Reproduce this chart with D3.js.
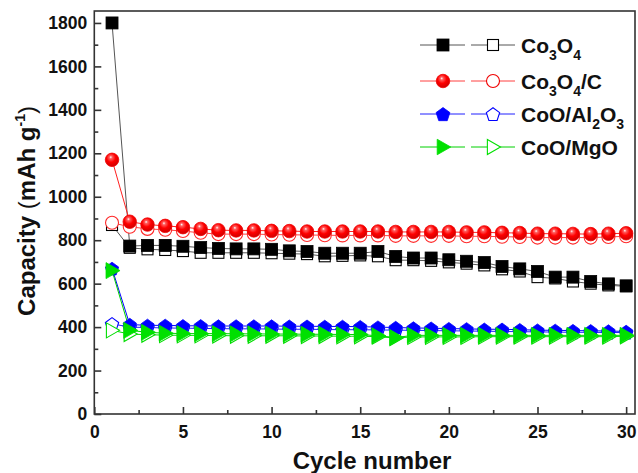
<!DOCTYPE html>
<html><head><meta charset="utf-8">
<script src="https://cdn.jsdelivr.net/npm/d3@7"></script>
<style>body{margin:0;background:#fff;} svg{display:block;font-family:"Liberation Sans",Arial,sans-serif;}</style>
</head><body>
<svg id="c" width="638" height="473"></svg>
<script>
const cycles = d3.range(1, 31);
const co3o4Fill = [1800,773,776,776,772,766,762,760,760,758,751,748,740,740,740,748,725,718,718,710,703,697,679,668,656,630,630,610,599,590];
const co3o4Open = [870,765,758,755,750,742,742,742,742,740,738,736,726,728,730,726,708,708,705,698,692,684,666,656,630,624,610,600,592,588];
const co3o4cFill = [1170,885,872,866,860,852,846,845,845,843,842,840,840,840,840,840,838,838,838,838,836,836,834,833,830,830,829,828,830,832];
const co3o4cOpen = [880,862,852,848,842,834,828,828,828,826,825,824,823,822,822,822,820,820,820,820,818,818,816,815,812,812,812,812,815,818];
const alFill = [670,412,408,408,406,406,405,405,405,405,404,404,403,403,402,400,398,396,395,393,392,390,390,388,386,385,384,383,382,380];
const alOpen = [415,400,398,396,395,394,393,392,392,391,390,390,389,388,388,387,386,385,384,383,382,381,380,379,378,377,376,376,375,375];
const mgFill = [660,385,376,372,370,370,370,369,369,368,368,367,367,366,366,360,352,362,362,362,362,362,362,362,362,362,362,362,362,362];
const mgOpen = [385,368,365,363,362,362,361,360,360,360,360,359,359,358,358,356,350,355,355,355,355,356,356,356,356,356,356,356,356,358];
const xTicks = [0,5,10,15,20,25,30];
const yTicks = [0,200,400,600,800,1000,1200,1400,1600,1800];

const svg = d3.select("#c");
const x = d3.scaleLinear().domain([0, 30.5]).range([94.3, 635]);
const y = d3.scaleLinear().domain([0, 1855]).range([414, 11]);

const defs = svg.append("defs");
const rg = defs.append("radialGradient").attr("id","sph").attr("cx","45%").attr("cy","38%").attr("r","60%").attr("fx","40%").attr("fy","30%");
rg.append("stop").attr("offset","0%").attr("stop-color","#ffffff");
rg.append("stop").attr("offset","18%").attr("stop-color","#ff6060");
rg.append("stop").attr("offset","55%").attr("stop-color","#ff0000");
rg.append("stop").attr("offset","100%").attr("stop-color","#d00000");
defs.append("clipPath").attr("id","clip").append("rect").attr("x",0).attr("y",0).attr("width",638).attr("height",473);

const axisCol = "#333";
svg.append("rect").attr("x", x(0)).attr("y", y(1855)).attr("width", x(30.5)-x(0)).attr("height", y(0)-y(1855))
  .attr("fill","none").attr("stroke",axisCol).attr("stroke-width",1.6);

const gx = svg.append("g").attr("transform",`translate(0,${y(0)})`);
gx.call(d3.axisBottom(x).tickValues(xTicks).tickSize(-7).tickPadding(12).tickFormat(d3.format("d")));
const gxm = svg.append("g").attr("transform",`translate(0,${y(0)})`);
gxm.call(d3.axisBottom(x).tickValues([2.5,7.5,12.5,17.5,22.5,27.5]).tickSize(-4).tickFormat(""));
const gy = svg.append("g").attr("transform",`translate(${x(0)},0)`);
gy.call(d3.axisLeft(y).tickValues(yTicks).tickSize(-7).tickPadding(7).tickFormat(d3.format("d")));
const gym = svg.append("g").attr("transform",`translate(${x(0)},0)`);
gym.call(d3.axisLeft(y).tickValues(d3.range(100,1900,200)).tickSize(-4).tickFormat(""));
[gx,gxm,gy,gym].forEach(g=>{
  g.select(".domain").remove();
  g.selectAll(".tick line").attr("stroke",axisCol).attr("stroke-width",1.6);
  g.selectAll("text").attr("font-size",17.5).attr("font-weight","bold").attr("fill","#111")
   .attr("font-family",'"Liberation Sans",Arial,sans-serif');
});

function drawShape(g, type, filled, color, size){
  let sel;
  if(type==="square"){
    const s = size;
    sel = g.append("rect").attr("x",-s/2).attr("y",-s/2).attr("width",s).attr("height",s);
  } else if(type==="circle"){
    sel = g.append("circle").attr("r", size/2);
  } else if(type==="pentagon"){
    const r = size/2+0.5;
    const pts = d3.range(5).map(i=>{const a=-Math.PI/2+i*2*Math.PI/5;return [r*Math.cos(a), r*Math.sin(a)+0.8];});
    sel = g.append("polygon").attr("points", pts.map(p=>p.join(",")).join(" "));
  } else {
    const s = size/2+1;
    sel = g.append("polygon").attr("points", `${-s*0.75},${-s} ${s},0 ${-s*0.75},${s}`);
  }
  if(filled){
    sel.attr("fill", type==="circle" ? "url(#sph)" : color).attr("stroke", color).attr("stroke-width",0.8);
  } else {
    sel.attr("fill","#fff").attr("stroke",color).attr("stroke-width",1.1);
  }
}

const series = [
  {vals: co3o4Open, type:"square", filled:false, color:"#000", line:"#555", size:11},
  {vals: co3o4Fill, type:"square", filled:true, color:"#000", line:"#555", size:12},
  {vals: co3o4cOpen, type:"circle", filled:false, color:"#ff2a2a", line:"#ff4040", size:13},
  {vals: co3o4cFill, type:"circle", filled:true, color:"#f00000", line:"#ff2020", size:13.5},
  {vals: alOpen, type:"pentagon", filled:false, color:"#0000ff", line:"#2020ff", size:13},
  {vals: alFill, type:"pentagon", filled:true, color:"#0000ff", line:"#0000ff", size:13},
  {vals: mgOpen, type:"triangle", filled:false, color:"#00dd00", line:"#00dd00", size:13},
  {vals: mgFill, type:"triangle", filled:true, color:"#00e000", line:"#00d000", size:14}
];
const plot = svg.append("g").attr("clip-path","url(#clip)");
const line = d3.line().x((d,i)=>x(cycles[i])).y(d=>y(d));
series.forEach(s=>{
  plot.append("path").attr("d", line(s.vals)).attr("fill","none").attr("stroke", s.line).attr("stroke-width",1);
});
series.forEach(s=>{
  s.vals.forEach((v,i)=>{
    const g = plot.append("g").attr("transform",`translate(${x(cycles[i])},${y(v)})`);
    drawShape(g, s.type, s.filled, s.color, s.size);
  });
});

const legendRows = [
  {parts:[["Co",0],["3",1],["O",0],["4",1]], type:"square", color:"#000", line:"#555"},
  {parts:[["Co",0],["3",1],["O",0],["4",1],["/C",0]], type:"circle", color:"#f00000", line:"#ff4040"},
  {parts:[["CoO/Al",0],["2",1],["O",0],["3",1]], type:"pentagon", color:"#0000ff", line:"#2020ff"},
  {parts:[["CoO/MgO",0]], type:"triangle", color:"#00e000", line:"#00d000"}
];
const legY = [45, 81, 114, 147];
legendRows.forEach((r,i)=>{
  const ly = legY[i];
  const g = svg.append("g");
  g.append("line").attr("x1",420).attr("x2",465).attr("y1",ly).attr("y2",ly).attr("stroke",r.line).attr("stroke-width",1);
  g.append("line").attr("x1",471).attr("x2",515).attr("y1",ly).attr("y2",ly).attr("stroke",r.line).attr("stroke-width",1);
  const g1 = g.append("g").attr("transform",`translate(443,${ly})`);
  drawShape(g1, r.type, true, r.color, r.type==="square"?12:13.5);
  const g2 = g.append("g").attr("transform",`translate(493,${ly})`);
  drawShape(g2, r.type, false, r.color, r.type==="square"?11:13);
  const t = g.append("text").attr("x",521).attr("y",ly+7.5).attr("font-size",21).attr("font-weight","bold").attr("fill","#111");
  let prevSub = false;
  r.parts.forEach(p=>{
    const sp = t.append("tspan").text(p[0]);
    if(p[1]){ sp.attr("font-size",14).attr("dy", prevSub?0:7); prevSub=true; }
    else { if(prevSub) sp.attr("dy",-7); prevSub=false; }
  });
});

svg.append("text").attr("x",372).attr("y",469).attr("text-anchor","middle").attr("font-size",24).attr("font-weight","bold").attr("fill","#111").text("Cycle number");
const yl = svg.append("text").attr("transform","translate(35,211) rotate(-90)").attr("text-anchor","middle")
  .attr("font-size",24).attr("font-weight","bold").attr("fill","#111");
yl.append("tspan").text("Capacity");
yl.append("tspan").attr("font-weight","normal").text(" (");
yl.append("tspan").text("mAh g");
yl.append("tspan").attr("font-size",14).attr("dy",-10).text("-1");
yl.append("tspan").attr("font-weight","normal").attr("dy",10).text(")");
</script>
</body></html>
